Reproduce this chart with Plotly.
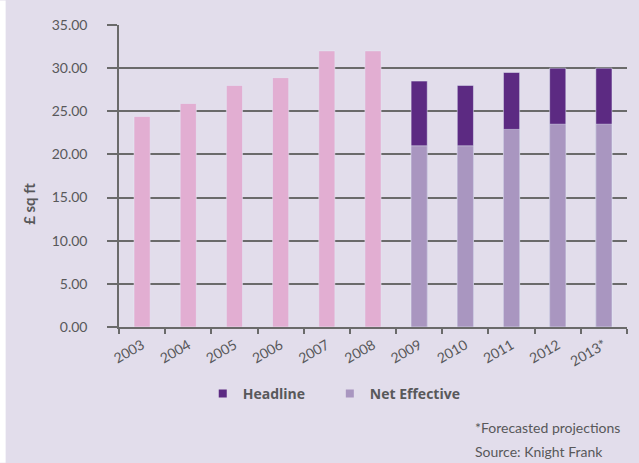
import plotly.graph_objects as go

years = ["2003", "2004", "2005", "2006", "2007", "2008",
         "2009", "2010", "2011", "2012", "2013*"]
historic = [24.4, 25.9, 28.0, 28.9, 32.0, 32.0, None, None, None, None, None]
headline = [None, None, None, None, None, None, 28.5, 28.0, 29.5, 30.0, 30.0]
net_effective = [None, None, None, None, None, None, 21.0, 21.0, 22.9, 23.5, 23.5]
y_ticks = [0, 5, 10, 15, 20, 25, 30, 35]

C_PINK = "#E2AED2"
C_HEAD = "#5C2A82"
C_NET = "#A996C0"
C_BG = "#E2DDEB"
C_GRID = "#6A6A6A"
C_TEXT = "#58585A"
FONT = "Lato"

fig = go.Figure()
fig.add_trace(go.Bar(x=years, y=historic, marker_color=C_PINK, width=0.35,
                     showlegend=False, name="Historic"))
fig.add_trace(go.Bar(x=years, y=headline, marker_color=C_HEAD, width=0.35,
                     showlegend=False, name="Headline"))
fig.add_trace(go.Bar(x=years, y=net_effective, marker_color=C_NET, width=0.35,
                     showlegend=False, name="Net Effective"))
# legend entries
fig.add_trace(go.Scatter(x=[None], y=[None], mode="markers", name="Headline",
                         marker=dict(symbol="square", size=8, color=C_HEAD),
                         legend="legend"))
fig.add_trace(go.Scatter(x=[None], y=[None], mode="markers", name="Net Effective",
                         marker=dict(symbol="square", size=8, color=C_NET),
                         legend="legend2"))

W, H = 639, 463
L, R, T, B = 119.3, 12, 24.5, 136
pw = W - L - R
ph = H - T - B

def px2x(px):
    return (px - L) / pw

def py2y(py):
    return (H - B - py) / ph

legend_font = dict(family="Open Sans", size=14, color=C_TEXT, weight="bold")

fig.update_layout(
    width=W, height=H,
    margin=dict(l=L, r=R, t=T, b=B, pad=0),
    paper_bgcolor=C_BG, plot_bgcolor=C_BG,
    barmode="overlay",
    font=dict(family=FONT, size=14, color=C_TEXT),
    xaxis=dict(type="category", tickson="boundaries", ticks="outside",
               ticklen=5, tickcolor=C_GRID, tickwidth=1.5,
               showline=True, linecolor=C_GRID, linewidth=1.5,
               showgrid=False, tickangle=-30, ticklabelstandoff=3,
               tickfont=dict(family=FONT, size=14, color=C_TEXT)),
    yaxis=dict(range=[0, 35], tickvals=y_ticks, tickformat=".2f",
               ticks="outside", ticklen=10, tickcolor=C_GRID, tickwidth=1.5,
               showline=True, linecolor=C_GRID, linewidth=1.5,
               showgrid=True, gridcolor=C_GRID, gridwidth=1.5,
               zeroline=False, ticklabelstandoff=17,
               tickfont=dict(family=FONT, size=14, color=C_TEXT)),
    legend=dict(orientation="h", x=px2x(203), y=py2y(394), xanchor="left",
                yanchor="middle", font=legend_font, bgcolor="rgba(0,0,0,0)"),
    legend2=dict(orientation="h", x=px2x(330), y=py2y(394), xanchor="left",
                 yanchor="middle", font=legend_font, bgcolor="rgba(0,0,0,0)"),
    shapes=[dict(type="rect", xref="paper", yref="paper",
                 x0=px2x(0), x1=px2x(6), y0=py2y(H), y1=py2y(0),
                 fillcolor="white", line_width=0, layer="below")],
    annotations=[
        dict(text="£ sq ft", textangle=-90, xref="paper", yref="paper",
             x=px2x(30), y=py2y(204), xanchor="center", yanchor="middle",
             showarrow=False,
             font=dict(family=FONT, size=15, color=C_TEXT, weight="bold")),
        dict(text="*Forecasted projections", xref="paper", yref="paper",
             x=px2x(473), y=py2y(428), xanchor="left", yanchor="middle",
             showarrow=False, font=dict(family=FONT, size=14, color=C_TEXT)),
        dict(text="Source: Knight Frank", xref="paper", yref="paper",
             x=px2x(473), y=py2y(452), xanchor="left", yanchor="middle",
             showarrow=False, font=dict(family=FONT, size=14, color=C_TEXT)),
    ],
)

fig.write_html("out.html")
